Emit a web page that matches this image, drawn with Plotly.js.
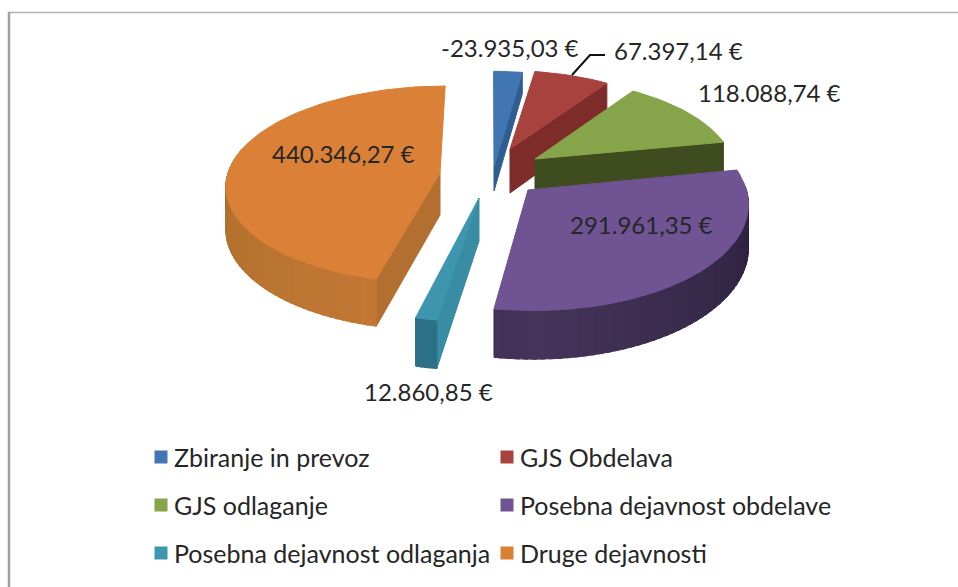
<!DOCTYPE html>
<html><head><meta charset="utf-8">
<script src="https://cdn.plot.ly/plotly-3.0.1.min.js"></script>
<style>html,body{margin:0;padding:0;background:#fff}#c{width:958px;height:587px}</style>
</head><body><div id="c"></div>
<script>
// ---- data ----
const categories = ["Zbiranje in prevoz","GJS Obdelava","GJS odlaganje","Posebna dejavnost obdelave","Posebna dejavnost odlaganja","Druge dejavnosti"];
const values = [-23935.03, 67397.14, 118088.74, 291961.35, 12860.85, 440346.27];
const topColors = ["#4276b3","#a8423f","#86a44a","#6f5392","#3d96ae","#da8137"];
const wallNear = ["#2f5d90","#7d2c2a","#3f4c1f","#453459","#2c7086","#c67935"];
const wallFar  = ["#2f5d90","#7d2c2a","#3f4c1f","#2a1f3c","#2c7086","#b0702e"];
const sideColors = ["#2f5d90","#7d2c2a","#3f4c1f","#2a1f3c","#388ca4","#b36f2f"];

// ---- layout of the drawing (pixel space, exploded 3D pie projection) ----
const W = 958, H = 587;
const Rx = 212, Ry = 97, persp = 0.115, vanishX = 490;
const apex = [[494,167],[510,149],[535,159],[528,190],[479,198],[440,173]];
const scaleX = [0.96,0.90,0.93,1.03,1.08,1.0];
const scaleY = [1.10,0.90,0.93,1.10,1.13,1.0];
const thick = [24,44,36,43,43,42];
const drawOrder = [0,1,2,5,4,3];
const labelPos = [[510,47],[678,50],[769,92],[641,224],[428,391],[343,153]];
const legendPos = [[161,457],[507,457],[161,505],[507,505],[161,553],[507,553]];
const leaderX = [572,590,605], leaderY = [75,55,55];
const fontFam = "Lato, Carlito, sans-serif";

const fmt = v => {
  const s = Math.abs(v).toFixed(2).split(".");
  return (v<0?"-":"") + s[0].replace(/\B(?=(\d{3})+$)/g,".") + "," + s[1] + " €";
};
const total = values.reduce((a,v)=>a+Math.abs(v),0);
let acc = 0;
const slices = values.map((v,i)=>{ const a0 = acc/total*360; acc += Math.abs(v); return {i, a0, a1: acc/total*360}; });

function proj(i, deg, r, down){
  const t = deg*Math.PI/180, c = Math.cos(t), sn = Math.sin(t);
  const s = 1/(1+persp*c*r);
  const cx = apex[i][0], cy = apex[i][1];
  return [ vanishX + (cx-vanishX + Rx*scaleX[i]*sn*r)*s,
           cy - Ry*scaleY[i]*c*r*s + (down ? thick[i]*s : 0) ];
}
const mix = (a,b,f)=>{
  const p = h=>[1,3,5].map(k=>parseInt(h.substr(k,2),16));
  const A=p(a),B=p(b);
  return "rgb("+A.map((x,k)=>Math.round(x+(B[k]-x)*f)).join(",")+")";
};
function poly(pts, color){
  return {type:"scatter",mode:"lines",x:pts.map(p=>p[0]).concat(pts[0][0]),y:pts.map(p=>p[1]).concat(pts[0][1]),
    fill:"toself",fillcolor:color,line:{color:color,width:1},hoverinfo:"skip",showlegend:false};
}
const traces = [];
drawOrder.forEach(i=>{
  const {a0,a1} = slices[i];
  // radial walls facing the viewer
  const radial = d => [proj(i,d,0,false),proj(i,d,1,false),proj(i,d,1,true),proj(i,d,0,true)];
  if (a1 <= 180) traces.push(poly(radial(a1), sideColors[i]));
  if (a0 >= 180) traces.push(poly(radial(a0), sideColors[i]));
  // outer wall bands (overlapping slightly so no seams show)
  const lo = Math.max(a0, 88), hi = Math.min(a1, 285);
  if (hi > lo){
    const n = Math.max(1, Math.ceil((hi-lo)/2));
    for(let k=0;k<n;k++){
      const d0 = lo+(hi-lo)*k/n, d1 = lo+(hi-lo)*(k+1.5)/n > hi ? hi : lo+(hi-lo)*(k+1.5)/n;
      const f = Math.min(1, Math.abs((d0+d1)/2-180)/90);
      traces.push(poly([proj(i,d0,1,false),proj(i,d1,1,false),proj(i,d1,1,true),proj(i,d0,1,true)], mix(wallNear[i],wallFar[i],f)));
    }
  }
  // top surface
  const top = [proj(i,a0,0,false)];
  const m = Math.max(2, Math.ceil((a1-a0)/2));
  for(let k=0;k<=m;k++) top.push(proj(i,a0+(a1-a0)*k/m,1,false));
  traces.push(poly(top, topColors[i]));
});
// leader line
traces.push({type:"scatter",mode:"lines",x:leaderX,y:leaderY,line:{color:"#111",width:2},hoverinfo:"skip",showlegend:false});
// legend swatches
traces.push({type:"scatter",mode:"markers",x:legendPos.map(p=>p[0]),y:legendPos.map(p=>p[1]),
  marker:{symbol:"square",size:13,color:topColors,line:{width:0}},hoverinfo:"skip",showlegend:false});

const ann = [];
values.forEach((v,i)=>ann.push({x:labelPos[i][0],y:labelPos[i][1],xref:"x",yref:"y",text:fmt(v),showarrow:false,
  xanchor:"center",yanchor:"middle",font:{family:fontFam,size:24,color:"#262626"}}));
categories.forEach((c,i)=>ann.push({x:legendPos[i][0]+11,y:legendPos[i][1],xref:"x",yref:"y",text:c,showarrow:false,
  xanchor:"left",yanchor:"middle",font:{family:fontFam,size:25,color:"#262626"}}));

Plotly.newPlot("c",traces,{
  width:W,height:H,margin:{l:0,r:0,t:0,b:0},paper_bgcolor:"#fff",plot_bgcolor:"#fff",showlegend:false,
  xaxis:{range:[0,W],visible:false,fixedrange:true},
  yaxis:{range:[H,0],visible:false,fixedrange:true},
  annotations:ann,
  shapes:[
    {type:"line",xref:"x",yref:"y",x0:8,x1:W,y0:12.5,y1:12.5,line:{color:"#b4b4b4",width:1.5}},
    {type:"line",xref:"x",yref:"y",x0:9,x1:9,y0:12,y1:H,line:{color:"#a0a0a0",width:2.5}}
  ]
},{displayModeBar:false,staticPlot:true});
</script></body></html>
